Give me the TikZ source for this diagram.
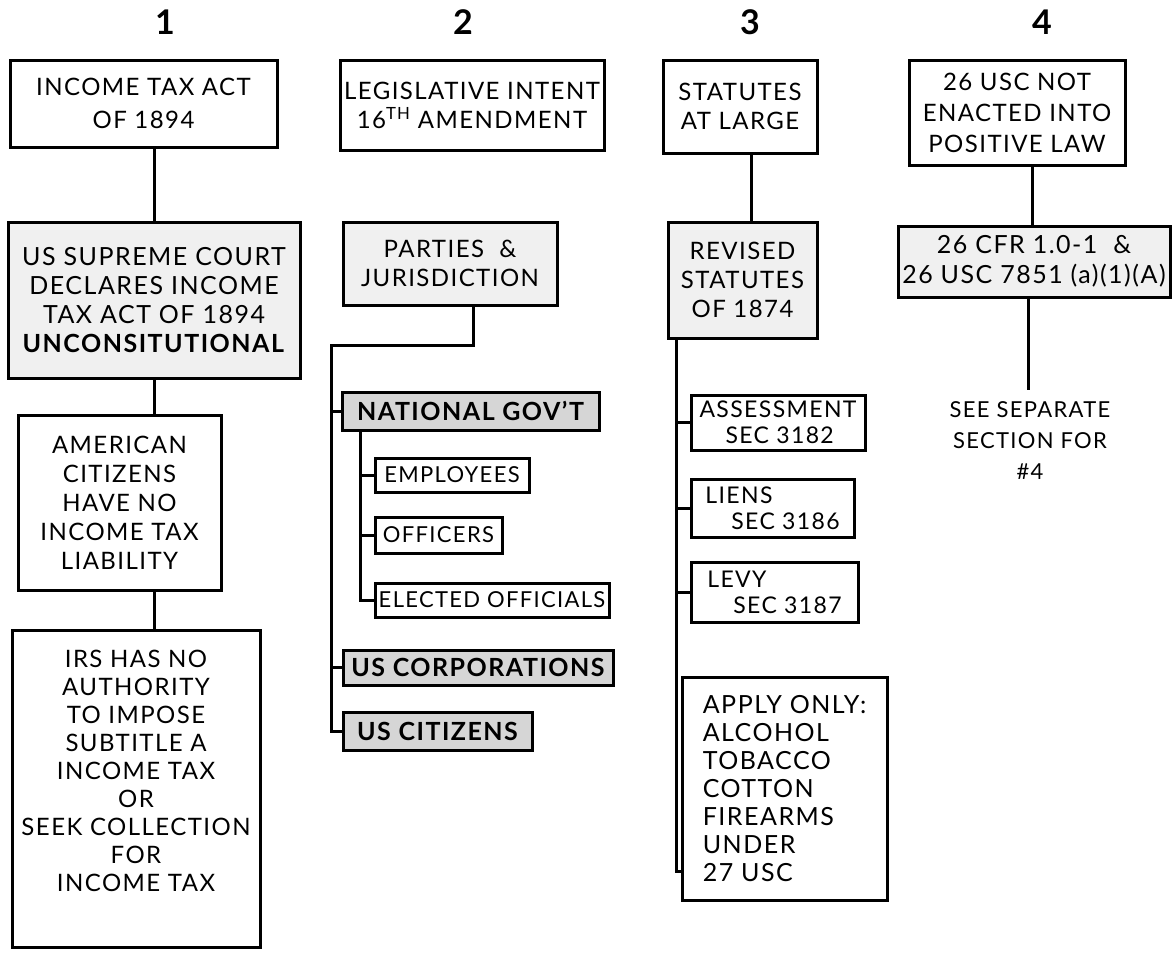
\documentclass[tikz,border=0pt]{standalone}
\usepackage{fontspec}
\setmainfont{Lato}[LetterSpace=6]
\newcommand*{\chartfont}{\fontsize{24}{29}\selectfont}
\newcommand*{\smallfont}{\fontsize{22}{26}\selectfont}
\newcommand*{\colfont}{\bfseries\fontsize{34}{40}\selectfont}

\tikzset{
	chart box/.style={draw, line width=3pt, align=center, inner sep=0pt, font=\chartfont},
	grey box/.style={chart box, fill=black!6},
	dark box/.style={chart box, fill=black!16, font=\fontsize{25}{30}\selectfont\bfseries},
	link/.style={line width=3pt},
	col head/.style={font=\colfont},
}

\begin{document}
\begin{tikzpicture}[x=1pt, y=-1pt]
		\useasboundingbox(0, 0)rectangle(1173, 956);
		% column heads
		\node[col head](h1)at(165, 22){1};
		\node[col head](h2)at(463, 22){2};
		\node[col head](h3)at(750, 22){3};
		\node[col head](h4)at(1042, 22){4};
		% column 1
		\node[chart box, minimum width=267, minimum height=87, font=\fontsize{24}{33}\selectfont](ita)at(143.5, 103.5){INCOME TAX ACT\\OF 1894};
		\node[grey box, minimum width=292, minimum height=156, font=\fontsize{25}{29}\selectfont](scd)at(154, 300){US SUPREME COURT\\DECLARES INCOME\\TAX ACT OF 1894\\\textbf{UNCONSITUTIONAL}};
		\node[chart box, minimum width=203, minimum height=175](acz)at(119.5, 502.5){AMERICAN\\CITIZENS\\HAVE NO\\INCOME TAX\\LIABILITY};
		\node[chart box, minimum width=248, minimum height=317, font=\fontsize{24}{28}\selectfont](irs)at(136, 788.5){IRS HAS NO\\AUTHORITY\\TO IMPOSE\\SUBTITLE A\\INCOME TAX\\OR\\SEEK COLLECTION\\FOR\\INCOME TAX\\[8pt]\mbox{}};
		\draw[link](ita.south -| scd.north)--(scd.north);
		\draw[link](scd.south)--(scd.south |- acz.north);
		\draw[link](scd.south |- acz.south)--(scd.south |- irs.north);
		% column 2
		\node[chart box, minimum width=264, minimum height=90](leg)at(472, 105){LEGISLATIVE INTENT\\16\textsuperscript{TH} AMENDMENT};
		\node[grey box, minimum width=214, minimum height=83](pj)at(450, 263.5){PARTIES~~\&\\JURISDICTION};
		\node[dark box, minimum width=257, minimum height=38](nat)at(470.5, 411){NATIONAL GOV'T};
		\node[chart box, minimum width=154, minimum height=34, font=\smallfont](emp)at(452, 475){EMPLOYEES};
		\node[chart box, minimum width=127, minimum height=36, font=\smallfont](off)at(438.5, 535){OFFICERS};
		\node[chart box, minimum width=234, minimum height=34, font=\smallfont](ele)at(492, 600){ELECTED OFFICIALS};
		\node[dark box, minimum width=270, minimum height=35](corp)at(478, 667.5){US CORPORATIONS};
		\node[dark box, minimum width=189, minimum height=38](cit)at(437.5, 731){US CITIZENS};
		\coordinate(bus2)at(331, 345);
		\draw[link](leg.south -| 475, 0)--(leg.south -| 475, 0 |- pj.north);
		\draw[link]([xshift=23]pj.south)|-(bus2)|-(cit.west);
		\draw[link](bus2 |- nat.west)--(nat.west);
		\draw[link](bus2 |- corp.west)--(corp.west);
		\draw[link]([xshift=20]nat.south west)|-(ele.west);
		\draw[link]([xshift=20]nat.south west |- emp.west)--(emp.west);
		\draw[link]([xshift=20]nat.south west |- off.west)--(off.west);
		% column 3
		\node[chart box, minimum width=154, minimum height=93](sal)at(740, 106.5){STATUTES\\AT LARGE};
		\node[grey box, minimum width=149, minimum height=116](rs)at(742.5, 280){REVISED\\STATUTES\\OF 1874};
		\node[chart box, minimum width=174, minimum height=55, align=left, font=\fontsize{23}{26}\selectfont](ass)at(778, 422.5){ASSESSMENT\\\hspace*{26pt}SEC 3182};
		\node[chart box, minimum width=163, minimum height=58, align=left, font=\fontsize{23}{26}\selectfont](lie)at(772.5, 508){LIENS\\\hspace*{26pt}SEC 3186};
		\node[chart box, minimum width=167, minimum height=60, align=left, font=\fontsize{23}{26}\selectfont](lev)at(774.5, 592){LEVY\\\hspace*{26pt}SEC 3187};
		\node[chart box, minimum width=205, minimum height=223, align=left, font=\fontsize{25}{28}\selectfont](app)at(784.5, 788.5){APPLY ONLY:\\ALCOHOL\\TOBACCO\\COTTON\\FIREARMS\\UNDER\\27 USC};
		\draw[link]([xshift=11]sal.south)--([xshift=11]sal.south |- rs.north);
		\draw[link]([xshift=10]rs.south west)|-([yshift=30]app.south west);
		\draw[link]([xshift=10]rs.south west |- ass.west)--(ass.west);
		\draw[link]([xshift=10]rs.south west |- lie.west)--(lie.west);
		\draw[link]([xshift=10]rs.south west |- lev.west)--(lev.west);
		% column 4
		\node[chart box, minimum width=216, minimum height=105, font=\fontsize{24}{31}\selectfont](usc)at(1017, 112.5){26 USC NOT\\ENACTED INTO\\POSITIVE LAW};
		\node[grey box, minimum width=272, minimum height=71, font=\fontsize{25}{30}\selectfont](cfr)at(1034, 261.5){26 CFR 1.0-1~~\&\\26 USC 7851 (a)(1)(A)};
		\node[align=center, inner sep=0pt, anchor=north, font=\fontsize{22}{31}\selectfont](see)at(1030, 401){SEE SEPARATE\\SECTION FOR\\\#4};
		\draw[link]([xshift=15]usc.south)--([xshift=15]usc.south |- cfr.north);
		\draw[link]([xshift=-6]cfr.south)--([yshift=11]see.north -| 1028, 0);
	\end{tikzpicture}
\end{document}
